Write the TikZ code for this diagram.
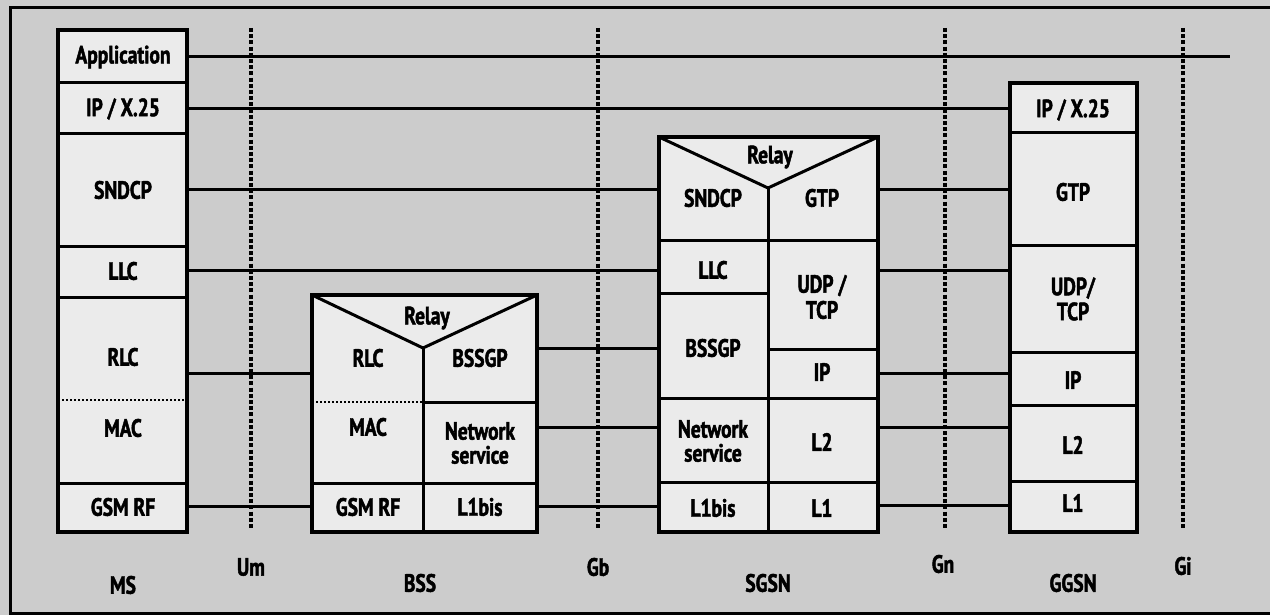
\documentclass[tikz,border=0pt]{standalone}
\usepackage{fontspec}
\setmainfont{PT Sans}[FakeStretch=0.78, BoldFeatures={FakeBold=1.8}]
\definecolor{bgcol}{gray}{0.80}
\definecolor{boxcol}{gray}{0.92}
\begin{document}
\begin{tikzpicture}[x=1pt,y=-1pt,
  stack/.style={draw, line width=3.2pt, fill=boxcol, inner sep=0pt, outer sep=0pt},
  sep/.style={line width=3pt},
  dotsep/.style={line width=2.8pt, dash pattern=on 2.2pt off 1.8pt},
  link/.style={line width=3pt},
  iface/.style={line width=3.5pt, dash pattern=on 4pt off 2.2pt},
  txt/.style={font=\fontsize{25}{25}\selectfont\bfseries, inner sep=0pt, align=center},
  lbl/.style={txt}]
\useasboundingbox (0,0) rectangle (1270,615);
\fill[bgcol] (0,0) rectangle (1270,615);
\draw[line width=3pt] (1272,8) -- (10,8) -- (10,613) -- (1272,613);

% level coordinates
\coordinate (lvA) at (0,57);
\coordinate (lvB) at (0,109);
\coordinate (lvC) at (0,190);
\coordinate (lvD) at (0,270);
\coordinate (lvE) at (0,348);
\coordinate (lvF) at (0,373);
\coordinate (lvG) at (0,427);
\coordinate (lvH) at (0,506);
\coordinate (append) at (1230,57);

% interface lines
\node[lbl] (um) at (251,567) {Um};
\node[lbl] (gb) at (598,567) {Gb};
\node[lbl] (gn) at (943,564) {Gn};
\node[lbl] (gi) at (1183,566) {Gi};
\coordinate (umt) at (251,28);  \coordinate (umb) at (251,530);
\coordinate (gbt) at (598,28);  \coordinate (gbb) at (598,530);
\coordinate (gnt) at (945,28);  \coordinate (gnb) at (945,530);
\coordinate (git) at (1183,28); \coordinate (gib) at (1183,530);
\draw[iface] (umt) -- (umb);
\draw[iface] (gbt) -- (gbb);
\draw[iface] (gnt) -- (gnb);
\draw[iface] (git) -- (gib);

% stacks
\node[stack, minimum width=129pt, minimum height=502pt] (ms) at (122.5,281) {};
\node[stack, minimum width=225pt, minimum height=237pt] (bss) at (424.5,413.5) {};
\node[stack, minimum width=219pt, minimum height=395pt] (sgsn) at (768.5,334.5) {};
\node[stack, minimum width=127pt, minimum height=449pt] (ggsn) at (1073.5,307.5) {};

% connectors
\draw[link] (ms.east |- lvA) -- (append);
\draw[link] (ms.east |- lvB) -- (ggsn.west |- lvB);
\draw[link] (ms.east |- lvC) -- (sgsn.west |- lvC);
\draw[link] (ms.east |- lvD) -- (sgsn.west |- lvD);
\draw[link] (ms.east |- lvF) -- (bss.west |- lvF);
\draw[link] (ms.east |- lvH) -- (bss.west |- lvH);
\draw[link] (bss.east |- lvE) -- (sgsn.west |- lvE);
\draw[link] (bss.east |- lvG) -- (sgsn.west |- lvG);
\draw[link] (bss.east |- lvH) -- (sgsn.west |- lvH);
\draw[link] (sgsn.east |- lvC) -- (ggsn.west |- lvC);
\draw[link] (sgsn.east |- lvD) -- (ggsn.west |- lvD);
\draw[link] (sgsn.east |- lvF) -- (ggsn.west |- lvF);
\draw[link] (sgsn.east |- lvG) -- (ggsn.west |- lvG);
\draw[link] (sgsn.east |- 0,505) -- (ggsn.west |- 0,505);

% MS separators
\foreach \yy in {83,134,246,297,483}
  \draw[sep] (ms.west |- 0,\yy) -- (ms.east |- 0,\yy);
\draw[dotsep] (ms.west |- 0,400) -- (ms.east |- 0,400);

% BSS outline parts
\coordinate (bssv) at (423,348);
\draw[sep, line join=miter] (bss.north west) -- (bssv) -- (bss.north east);
\draw[sep] (bssv) -- (bssv |- bss.south);
\draw[dotsep] (bss.west |- 0,402) -- (bssv |- 0,402);
\draw[sep] (bssv |- 0,402) -- (bss.east |- 0,402);
\draw[sep] (bss.west |- 0,483) -- (bss.east |- 0,483);

% SGSN outline parts
\coordinate (sgv) at (768,188);
\draw[sep, line join=miter] (sgsn.north west) -- (sgv) -- (sgsn.north east);
\draw[sep] (sgv) -- (sgv |- sgsn.south);
\foreach \yy in {240,398,482}
  \draw[sep] (sgsn.west |- 0,\yy) -- (sgsn.east |- 0,\yy);
\draw[sep] (sgsn.west |- 0,293) -- (sgv |- 0,293);
\draw[sep] (sgv |- 0,349) -- (sgsn.east |- 0,349);

% GGSN separators
\foreach \yy in {133,245,352,405,481}
  \draw[sep] (ggsn.west |- 0,\yy) -- (ggsn.east |- 0,\yy);

% MS texts
\node[txt] (msapp) at (123,57) {Application};
\node[txt] (msip) at (123,109) {IP / X.25};
\node[txt] (mssndcp) at (123,190) {SNDCP};
\node[txt] (msllc) at (123,271) {LLC};
\node[txt] (msrlc) at (123,357) {RLC};
\node[txt] (msmac) at (123,428) {MAC};
\node[txt] (msrf) at (123,507) {GSM RF};
\node[lbl] (mslbl) at (123,585) {MS};

% BSS texts
\node[txt] (bssrelay) at (427,318) {Relay};
\node[txt] (bssrlc) at (368,358) {RLC};
\node[txt] (bssbssgp) at (480,358) {BSSGP};
\node[txt] (bssmac) at (368,427) {MAC};
\node[txt, font=\fontsize{25}{24}\selectfont\bfseries] (bssns) at (480,443) {Network\\service};
\node[txt] (bssrf) at (368,507) {GSM RF};
\node[txt] (bssl1) at (480,507) {L1bis};
\node[lbl] (bsslbl) at (420,583) {BSS};

% SGSN texts
\node[txt] (sgrelay) at (770,157) {Relay};
\node[txt] (sgsndcp) at (713,198) {SNDCP};
\node[txt] (sggtp) at (822,198) {GTP};
\node[txt] (sgllc) at (713,270) {LLC};
\node[txt, font=\fontsize{25}{26}\selectfont\bfseries] (sgudp) at (822,297) {UDP /\\TCP};
\node[txt] (sgbssgp) at (713,348) {BSSGP};
\node[txt] (sgip) at (822,372) {IP};
\node[txt, font=\fontsize{25}{24}\selectfont\bfseries] (sgns) at (713,441) {Network\\service};
\node[txt] (sgl2) at (822,442) {L2};
\node[txt] (sgl1bis) at (713,508) {L1bis};
\node[txt] (sgl1) at (822,508) {L1};
\node[lbl] (sglbl) at (768,583) {SGSN};

% GGSN texts
\node[txt] (ggip) at (1073,110) {IP / X.25};
\node[txt] (gggtp) at (1073,192) {GTP};
\node[txt, font=\fontsize{25}{25}\selectfont\bfseries] (ggudp) at (1073,299) {UDP/\\TCP};
\node[txt] (ggipb) at (1073,380) {IP};
\node[txt] (ggl2) at (1073,445) {L2};
\node[txt] (ggl1) at (1073,503) {L1};
\node[lbl] (gglbl) at (1073,583) {GGSN};
\end{tikzpicture}
\end{document}
